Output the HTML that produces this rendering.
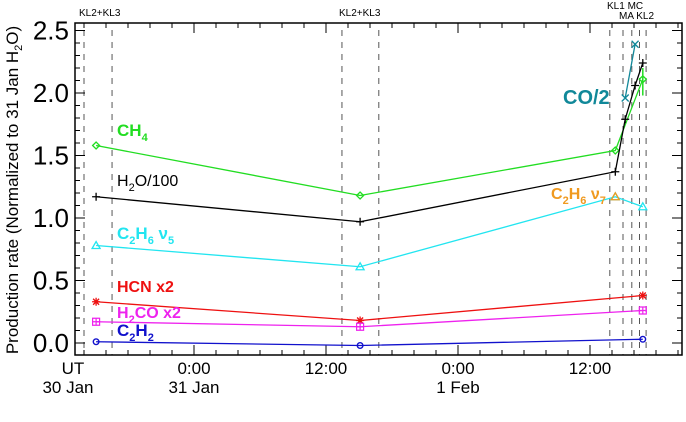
<!DOCTYPE html>
<html><head><meta charset="utf-8"><style>
body{margin:0;background:#fff}
svg{display:block;font-family:"Liberation Sans",sans-serif}
</style></head><body>
<svg id="c" width="686" height="422" viewBox="0 0 686 422"></svg>
<script>
const timesMain=[-8.9,15.1,40.8];
const ch4=[1.58,1.18,1.54,2.11]; const ch4T=[-8.9,15.1,38.3,40.8];
const h2oT=[-8.9,15.1,38.3,39.2,40.1,40.8]; const h2o=[1.17,0.97,1.37,1.79,2.06,2.24];
const c2h6v5T=[-8.9,15.1,38.3,40.8]; const c2h6v5=[0.78,0.61,1.17,1.09];
const hcn=[0.33,0.18,0.38];
const h2co=[0.17,0.13,0.26];
const c2h2=[0.01,-0.02,0.03];
const coT=[39.2,40.1]; const co=[1.96,2.39];
const c2h6v7T=[38.3]; const c2h6v7=[1.17];
const dashHours=[-10.0,-7.45,13.45,16.8,37.8,39.0,39.8,40.5,41.1];
const yTicks=[0,0.5,1,1.5,2,2.5];
const yTickLabels=["0.0","0.5","1.0","1.5","2.0","2.5"];
const xTicks=[0,12,24,36];
const xTickLabels=["0:00","12:00","0:00","12:00"];
const xSub=["31 Jan","","1 Feb",""];

const L=75,R=682,T=23,B=355;
const X=h=>194+11*h;
const Y=v=>343-125*v;
const s=document.getElementById('c');
const NS='http://www.w3.org/2000/svg';
function el(t,a,p){const e=document.createElementNS(NS,t);for(const k in a)e.setAttribute(k,a[k]);(p||s).appendChild(e);return e;}

dashHours.forEach(h=>{const e=el('line',{x1:X(h),x2:X(h),y1:30,y2:B,stroke:'#555','stroke-width':1,'stroke-dasharray':'6,6'});

});

const box=el('rect',{x:L,y:T,width:R-L,height:B-T,fill:'none',stroke:'#000','stroke-width':1.5});


for(let i=0;i<=25;i++){const v=i/10;const maj=i%5===0;const len=maj?10:5;
el('line',{x1:L,x2:L+len,y1:Y(v),y2:Y(v),stroke:'#000'});
el('line',{x1:R,x2:R-len,y1:Y(v),y2:Y(v),stroke:'#000'});}
yTicks.forEach((v,i)=>{const t=el('text',{x:L-6,y:Y(v)+9,'text-anchor':'end','font-size':26});t.textContent=yTickLabels[i];

});
for(let h=-10;h<=44;h+=2){const maj=h%12===0;const len=maj?10:5;
el('line',{x1:X(h),x2:X(h),y1:B,y2:B-len,stroke:'#000'});
el('line',{x1:X(h),x2:X(h),y1:T,y2:T+len,stroke:'#000'});}
xTicks.forEach((h,i)=>{const t=el('text',{x:X(h),y:374,'text-anchor':'middle','font-size':17});t.textContent=xTickLabels[i];


if(xSub[i]){const u=el('text',{x:X(h),y:393,'text-anchor':'middle','font-size':17});u.textContent=xSub[i];

}});
let t=el('text',{x:73,y:374,'text-anchor':'middle','font-size':17});t.textContent='UT';

t=el('text',{x:68,y:393,'text-anchor':'middle','font-size':17});t.textContent='30 Jan';


function series(name,ts,vs,color,marker){
 const g=el('g',{});
 el('polyline',{points:ts.map((h,i)=>X(h)+','+Y(vs[i])).join(' '),fill:'none',stroke:color,'stroke-width':1.3},g);
 ts.forEach((h,i)=>{const x=X(h),y=Y(vs[i]);let m;
  if(marker==='d')m=el('path',{d:`M${x-3.5},${y}L${x},${y-3.5}L${x+3.5},${y}L${x},${y+3.5}Z`,fill:'none',stroke:color,'stroke-width':1.3},g);
  else if(marker==='+')m=el('path',{d:`M${x-4},${y}H${x+4}M${x},${y-4}V${y+4}`,stroke:color,'stroke-width':1.3},g);
  else if(marker==='t')m=el('path',{d:`M${x-4},${y+3}L${x},${y-4}L${x+4},${y+3}Z`,fill:'none',stroke:color,'stroke-width':1.3},g);
  else if(marker==='*')m=el('path',{d:`M${x-4},${y}H${x+4}M${x},${y-4}V${y+4}M${x-3},${y-3}L${x+3},${y+3}M${x+3},${y-3}L${x-3},${y+3}`,stroke:color,'stroke-width':1.3},g);
  else if(marker==='s')m=el('path',{d:`M${x-3.5},${y-3.5}h7v7h-7zM${x},${y-3.5}v7M${x-3.5},${y}h7`,fill:'none',stroke:color,'stroke-width':1.2},g);
  else if(marker==='o')m=el('circle',{cx:x,cy:y,r:2.8,fill:'none',stroke:color,'stroke-width':1.4},g);
  else if(marker==='x')m=el('path',{d:`M${x-3.5},${y-3.5}L${x+3.5},${y+3.5}M${x+3.5},${y-3.5}L${x-3.5},${y+3.5}`,stroke:color,'stroke-width':1.3},g);
  });
}
series('ch4',ch4T,ch4,'#22dd22','d');
el('line',{x1:X(40.8),x2:X(40.8),y1:Y(2.2),y2:Y(1.98),stroke:'#22dd22','stroke-width':1.5});
series('h2o',h2oT,h2o,'#000','+');
series('c2h6-v5',c2h6v5T,c2h6v5,'#22e5f0','t');
series('hcn',timesMain,hcn,'#ee1111','*');
series('h2co',timesMain,h2co,'#ee22ee','s');
series('c2h2',timesMain,c2h2,'#1111cc','o');
series('co',coT,co,'#118899','x');
series('c2h6-v7',c2h6v7T,c2h6v7,'#f09a20','t');

function lab(name,x,y,color,html,size,bold){const e=el('text',{x:x,y:y,fill:color,'font-size':size,'font-weight':bold?'bold':'normal'});e.innerHTML=html;
}
const sub='<tspan dy="5" font-size="11">';
lab('ch4-label',117,136,'#22dd22','CH'+sub+'4</tspan>',17,true);
lab('h2o-label',117,186,'#000','H'+sub+'2</tspan><tspan dy="-5">O/100</tspan>',16,false);
lab('c2h6-v5-label',117,239,'#22e5f0','C'+sub+'2</tspan><tspan dy="-5">H</tspan>'+sub+'6</tspan><tspan dy="-5"> ν</tspan>'+sub+'5</tspan>',17,true);
lab('hcn-label',117,292,'#ee1111','HCN x2',16,true);
lab('h2co-label',117,318,'#ee22ee','H'+sub+'2</tspan><tspan dy="-5">CO x2</tspan>',16,true);
lab('c2h2-label',117,336,'#1111cc','C'+sub+'2</tspan><tspan dy="-5">H</tspan>'+sub+'2</tspan>',17,true);
lab('co-label',563,104,'#118899','CO/2',20,true);
lab('c2h6-v7-label',551,199,'#f09a20','C'+sub+'2</tspan><tspan dy="-5">H</tspan>'+sub+'6</tspan><tspan dy="-5"> ν</tspan>'+sub+'7</tspan>',16,true);
lab('kl2-kl3-label-1',79,16,'#000','KL2+KL3',10,false);
lab('kl2-kl3-label-2',339,16,'#000','KL2+KL3',10,false);
lab('kl1-mc-label',607,9,'#000','KL1 MC',10,false);
lab('ma-kl2-label',619,19,'#000','MA KL2',10,false);
const yt=el('text',{transform:'translate(18,190) rotate(-90)','text-anchor':'middle','font-size':17});
yt.innerHTML='Production rate (Normalized to 31 Jan H<tspan dy="4" font-size="11">2</tspan><tspan dy="-4">O)</tspan>';

</script>
</body></html>
